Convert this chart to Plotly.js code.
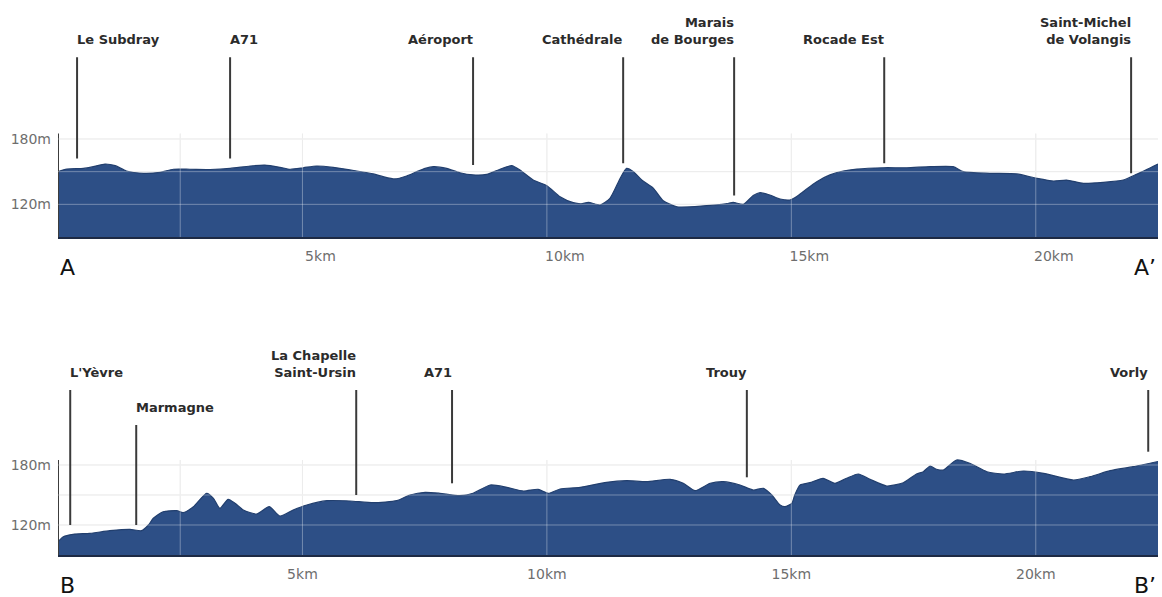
<!DOCTYPE html>
<html>
<head>
<meta charset="utf-8">
<script src="https://cdn.plot.ly/plotly-3.0.1.min.js"></script>
<style>html,body{margin:0;padding:0;background:#fff;}#chart{width:1162px;height:597px;}</style>
</head>
<body>
<div id="chart"></div>
<script>
// ---- Profile A - A' (distance km, elevation m)
const topKm = [0.00,0.18,0.52,0.72,0.96,1.17,1.40,1.75,2.09,2.36,2.70,3.11,3.52,3.93,4.23,4.54,4.75,5.02,5.29,5.63,6.11,6.45,6.65,6.89,7.13,7.34,7.51,7.68,7.95,8.22,8.49,8.77,9.04,9.28,9.45,9.72,10.00,10.27,10.54,10.70,10.85,11.09,11.29,11.50,11.63,11.77,11.94,12.18,12.38,12.66,13.20,13.68,13.81,14.02,14.22,14.36,14.56,14.77,14.97,15.07,15.24,15.52,15.79,16.06,16.34,16.88,17.36,17.84,18.31,18.52,19.06,19.61,20.02,20.36,20.63,20.97,21.38,21.79,22.06,22.50];
const topElev = [150,152.4,153,154.6,157,155.5,150.6,148.5,149.4,152.2,152.2,152,153,155.2,156,154,152.2,153.6,155.2,154,150.6,147.9,145.4,143.3,146,150,153,154.6,153,149,147,147.5,152.2,155.5,151.5,142.3,137.1,127,121.5,120.5,121.8,119.4,125.5,143.9,153,150,142.3,134.7,123.3,117.8,118.5,120.6,121.8,120,128,130.7,128.6,124.9,124,126,131.6,140.8,147,150.6,152.4,153.6,153.6,154.6,154.6,150,148.5,147.9,143.9,141.4,142.3,139.3,140.2,142.3,147.5,157];

// ---- Profile B - B'
const botKm = [0.00,0.11,0.31,0.65,1.06,1.47,1.71,1.85,1.95,2.15,2.43,2.56,2.77,3.04,3.18,3.31,3.48,3.62,3.79,4.06,4.32,4.54,4.81,5.09,5.50,5.97,6.45,6.93,7.20,7.51,7.81,8.22,8.49,8.84,9.18,9.52,9.82,10.03,10.27,10.68,11.22,11.63,12.04,12.52,12.79,13.03,13.34,13.61,13.95,14.22,14.43,14.60,14.77,14.87,15.01,15.07,15.18,15.38,15.65,15.89,16.13,16.37,16.61,16.95,17.29,17.56,17.70,17.84,17.97,18.11,18.38,18.65,19.00,19.34,19.75,20.16,20.77,21.11,21.52,21.99,22.50];
const botElev = [103.3,108.3,110.7,111.7,114.3,115.7,114.3,120,126.7,133.3,134.3,132.3,138.3,151.7,146.7,136.7,145.7,141.7,135,131,138.3,129,135,140,144.3,144,142.3,144.3,150,152.7,151.7,149.3,151.7,160,157.7,154,155.7,151.7,156,157.7,162.7,164.3,163.3,165.7,161.7,154.3,161.7,163.3,160,155,156.7,150,140,138.3,141.7,150,160,162.3,166.7,161.7,166.7,171,165.7,159,162.3,171,173.3,179,175.7,175,185,181.7,173.3,171,174,171.7,165,168.3,174.3,178.3,183.5];

// ---- Places along the profiles
const topPlaces = ['Le Subdray','A71','Aéroport','Cathédrale','Marais<br>de Bourges','Rocade Est','Saint-Michel<br>de Volangis'];
const topPlaceKm = [0.39,3.52,8.49,11.56,13.83,16.90,21.95];
const topPlaceFoot = [162,162,156,157.7,128,157.7,148.5];
const topPlaceHead = [255,255,255,255,255,255,255];

const botPlaces = ["L'Yèvre",'Marmagne','La Chapelle<br>Saint-Ursin','A71','Trouy','Vorly'];
const botPlaceKm = [0.25,1.60,6.10,8.06,14.09,22.30];
const botPlaceFoot = [120,120,150,161.7,167.7,193.3];
const botPlaceHead = [255,220,255,255,255,255];

// ---- Axes
const kmRange = [0, 22.5];
const elevRange = [90, 300];
const elevAxisTop = 185;
const kmTicks = [5,10,15,20];
const kmTickText = ['5km','10km','15km','20km'];
const elevTicks = [120,180];
const elevTickText = ['120m','180m'];
const gridKm = [2.5,5,10,15,20];
const gridElev = [120,150,180];
const endLabels = [['A','A\u2019'],['B','B\u2019']];

const FONT = 'DejaVu Sans, Verdana, sans-serif';

function profile(xs, ys, xa, ya) {
  return {type:'scatter', x:xs, y:ys, xaxis:xa, yaxis:ya, mode:'lines',
    fill:'tozeroy', fillcolor:'#2d4f86',
    line:{color:'#223f6e', width:1.2, shape:'spline', smoothing:0.6},
    hoverinfo:'skip', showlegend:false};
}
function leftAxis(xa, ya) {
  return {type:'scatter', x:[kmRange[0],kmRange[0]], y:[elevRange[0], elevAxisTop], xaxis:xa, yaxis:ya,
    mode:'lines', line:{color:'#3c3c3c', width:2}, cliponaxis:false, hoverinfo:'skip', showlegend:false};
}

const data = [profile(topKm, topElev, 'x', 'y'), profile(botKm, botElev, 'x2', 'y2'),
              leftAxis('x','y'), leftAxis('x2','y2')];

const shapes = [];
const annotations = [];
function grids(xr, yr) {
  gridKm.forEach(k => {
    shapes.push({type:'line', xref:xr, yref:yr, x0:k, x1:k, y0:elevRange[0], y1:elevAxisTop, layer:'below', line:{color:'#e2e2e2', width:1}});
    shapes.push({type:'line', xref:xr, yref:yr, x0:k, x1:k, y0:elevRange[0], y1:elevAxisTop, layer:'above', line:{color:'rgba(255,255,255,0.34)', width:1}});
  });
  gridElev.forEach(e => {
    shapes.push({type:'line', xref:xr, yref:yr, x0:kmRange[0], x1:kmRange[1], y0:e, y1:e, layer:'below', line:{color:'#e2e2e2', width:1}});
    shapes.push({type:'line', xref:xr, yref:yr, x0:kmRange[0], x1:kmRange[1], y0:e, y1:e, layer:'above', line:{color:'rgba(255,255,255,0.34)', width:1}});
  });
}
function places(names, kms, foots, heads, xr, yr) {
  names.forEach((n, i) => {
    shapes.push({type:'line', xref:xr, yref:yr, x0:kms[i], x1:kms[i], y0:foots[i], y1:heads[i], layer:'above', line:{color:'#3a3a3a', width:2}});
    const left = kms[i] < 4;
    annotations.push({xref:xr, yref:yr, x:kms[i], y:heads[i], text:n, showarrow:false,
      xanchor: left ? 'left' : 'right', align: left ? 'left' : 'right', yanchor:'bottom', yshift:8,
      xshift: left ? -2 : 2,
      font:{family:FONT, size:13, color:'#2b2b2b', weight:'bold'}});
  });
}
grids('x','y'); grids('x2','y2');
places(topPlaces, topPlaceKm, topPlaceFoot, topPlaceHead, 'x', 'y');
places(botPlaces, botPlaceKm, botPlaceFoot, botPlaceHead, 'x2', 'y2');

const endY = [0.5511, 0.0201];
endLabels.forEach((pair, i) => {
  annotations.push({xref:'paper', yref:'paper', x:0, y:endY[i], text:pair[0], showarrow:false, xanchor:'left', yanchor:'middle', font:{family:FONT, size:22, color:'#111'}});
  annotations.push({xref:'paper', yref:'paper', x:1, y:endY[i], text:pair[1], showarrow:false, xanchor:'right', yanchor:'middle', font:{family:FONT, size:22, color:'#111'}});
});

function xAxis(shift) {
  return {range:kmRange, domain:[0,1], showgrid:false, zeroline:false, showline:true, linecolor:'#1d2a44', linewidth:2,
    tickvals:kmTicks, ticktext:kmTickText, ticks:'', ticklabelshift:shift, ticklabelstandoff:5,
    tickfont:{family:FONT, size:14, color:'#6e6e6e'}, fixedrange:true, automargin:false};
}
function yAxis(domain, anchor) {
  return {range:elevRange, domain:domain, anchor:anchor, showgrid:false, zeroline:false, showline:false,
    tickvals:elevTicks, ticktext:elevTickText, ticks:'', ticklabelstandoff:6,
    tickfont:{family:FONT, size:14, color:'#6e6e6e'}, fixedrange:true, automargin:false};
}

const layout = {
  width:1162, height:597, margin:{l:58, r:4, t:0, b:0},
  paper_bgcolor:'#ffffff', plot_bgcolor:'rgba(0,0,0,0)', showlegend:false,
  xaxis: Object.assign(xAxis(18), {anchor:'y'}),
  yaxis: yAxis([0.60302, 0.98610], 'x'),
  xaxis2: Object.assign(xAxis(0), {anchor:'y2'}),
  yaxis2: yAxis([0.070352, 0.422111], 'x2'),
  shapes: shapes, annotations: annotations,
  font:{family:FONT}
};

Plotly.newPlot('chart', data, layout, {displayModeBar:false, staticPlot:true});
</script>
</body>
</html>
